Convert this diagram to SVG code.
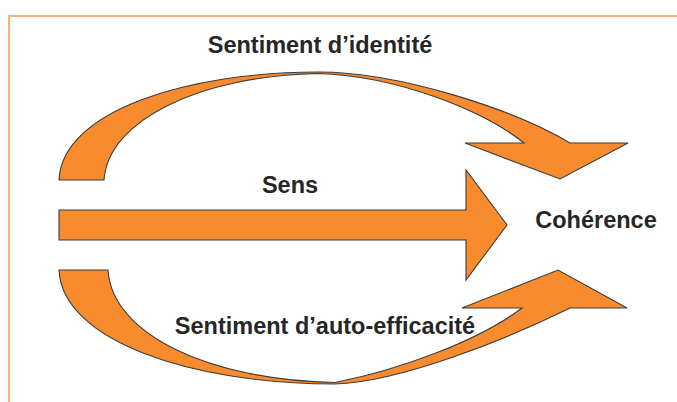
<svg xmlns="http://www.w3.org/2000/svg" width="677" height="402" viewBox="0 0 677 402">
<style>
.frame{fill:none;stroke:#FDB07A;stroke-width:2}
.arrow{fill:#F78B2D;stroke:#3d3d3d;stroke-width:1.1;stroke-linejoin:miter}
.lbl{font-family:"Liberation Sans",Arial,sans-serif;font-weight:bold;font-size:23.5px;fill:#262626;text-anchor:middle}
</style>
<rect width="677" height="402" fill="#ffffff"/>
<path class="frame" d="M677,16 L9,16 L9,402"/>
<g id="connectors">
<g id="arrow-identite">
<path class="arrow" d="M59,180 C62,110 190,72 318,72 C400,72 515,110 570,143 L628,143 L560,179 L465,143 L524,143 C485,112 400,76 318,73.5 C200,76 108,120 104,180 Z"/>
</g>
<g id="arrow-sens">
<path class="arrow" d="M59,210 L466,210 L466,170 L507,225 L466,280 L466,240 L59,240 Z"/>
</g>
<g id="arrow-auto-efficacite">
<path class="arrow" d="M59,270 C62,340 190,384 335,384 C400,382 505,340 570,308 L627,308 L558,270 L462,308 L522,308 C480,340 400,370 335,382.5 C210,380 112,335 108,270 Z"/>
</g>
</g>
<g id="label-identite"><text class="lbl" x="320" y="53">Sentiment d’identité</text></g>
<g id="label-sens"><text class="lbl" x="290" y="193">Sens</text></g>
<g id="node-coherence"><text class="lbl" x="596" y="228">Cohérence</text></g>
<g id="label-auto-efficacite"><text class="lbl" x="325" y="334">Sentiment d’auto-efficacité</text></g>
</svg>
